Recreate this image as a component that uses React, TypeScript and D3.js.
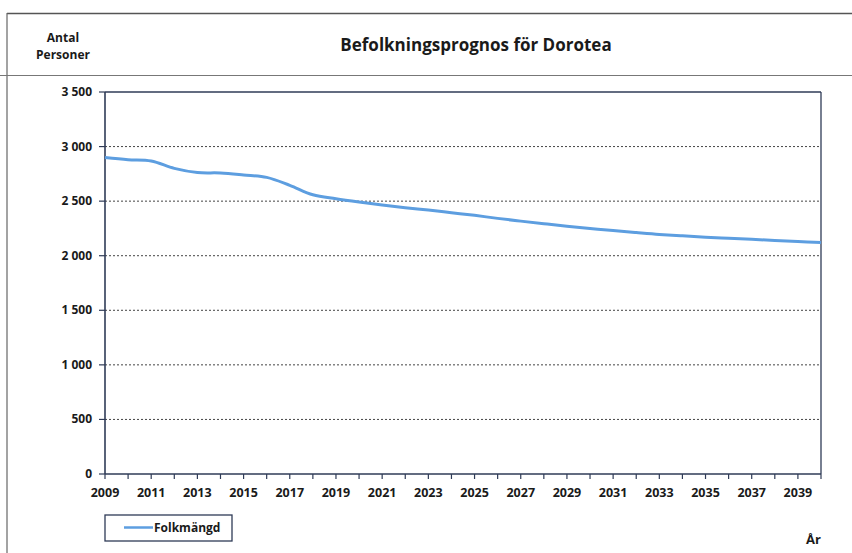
import React from "react";
import * as d3 from "d3";

const years: number[] = [
  2009, 2010, 2011, 2012, 2013, 2014, 2015, 2016, 2017, 2018, 2019, 2020, 2021, 2022, 2023, 2024,
  2025, 2026, 2027, 2028, 2029, 2030, 2031, 2032, 2033, 2034, 2035, 2036, 2037, 2038, 2039, 2040,
];
const folkmangd: number[] = [
  2900, 2880, 2868, 2800, 2762, 2758, 2740, 2718, 2645, 2558, 2522, 2492, 2465, 2440, 2418, 2394,
  2370, 2342, 2317, 2293, 2270, 2250, 2230, 2212, 2195, 2182, 2170, 2160, 2150, 2140, 2130, 2120,
];
const yTicks: number[] = [0, 500, 1000, 1500, 2000, 2500, 3000, 3500];
const xLabelYears: number[] = [2009, 2011, 2013, 2015, 2017, 2019, 2021, 2023, 2025, 2027, 2029, 2031, 2033, 2035, 2037, 2039];

const title = "Befolkningsprognos för Dorotea";
const seriesName = "Folkmängd";
const yTitle = ["Antal", "Personer"];
const xTitle = "År";

const W = 852;
const H = 553;
const left = 105;
const right = 821;
const top = 92;
const bottom = 474;
const FONT = "'Open Sans', 'Liberation Sans', sans-serif";
const TEXT = "#1a1a1a";
const AXIS = "#2f3b57";
const LINE = "#5d9ee0";

const sv = d3.formatLocale({ decimal: ",", thousands: " ", grouping: [3], currency: ["", ""] }).format(",d");

export default function App() {
  const x = d3.scaleLinear().domain([2009, 2040]).range([left, right]);
  const y = d3.scaleLinear().domain([0, 3500]).range([bottom, top]);
  const line = d3
    .line<number>()
    .x((_, i) => x(years[i]))
    .y((d) => y(d))
    .curve(d3.curveCatmullRom.alpha(0.5));

  return (
    <svg width={W} height={H} style={{ position: "absolute", left: 0, top: 0, background: "#fff" }}>
      <rect x={0} y={0} width={W} height={H} fill="#fff" />
      {/* outer frame */}
      <line x1={7} x2={W} y1={13.5} y2={13.5} stroke="#555" strokeWidth={1.5} />
      <line x1={7} x2={7} y1={13} y2={H} stroke="#666" strokeWidth={1.2} />
      <line x1={0} x2={W} y1={75.5} y2={75.5} stroke="#777" strokeWidth={1.2} />

      {/* titles */}
      <text x={63} y={42} textAnchor="middle" fontFamily={FONT} fontWeight="bold" fontSize={12} fill={TEXT}>
        {yTitle[0]}
      </text>
      <text x={63} y={59} textAnchor="middle" fontFamily={FONT} fontWeight="bold" fontSize={12} fill={TEXT}>
        {yTitle[1]}
      </text>
      <text x={476} y={51} textAnchor="middle" fontFamily={FONT} fontWeight="bold" fontSize={17} fill={TEXT}>
        {title}
      </text>

      {/* gridlines */}
      {yTicks
        .filter((t) => t > 0 && t < 3500)
        .map((t) => (
          <line key={t} x1={left} x2={right} y1={y(t)} y2={y(t)} stroke="#444" strokeWidth={1} strokeDasharray="2,2" />
        ))}

      {/* plot frame */}
      <line x1={left} x2={right} y1={top} y2={top} stroke={AXIS} strokeWidth={1.3} />
      <line x1={right} x2={right} y1={top} y2={bottom} stroke={AXIS} strokeWidth={1.3} />
      <line x1={left} x2={left} y1={top} y2={bottom} stroke={AXIS} strokeWidth={1.6} />
      <line x1={left} x2={right} y1={bottom} y2={bottom} stroke={AXIS} strokeWidth={1.6} />

      {/* y ticks */}
      {yTicks.map((t) => (
        <g key={t}>
          <line x1={left - 6} x2={left} y1={y(t)} y2={y(t)} stroke={AXIS} strokeWidth={1.2} />
          <text x={92} y={y(t) + 4} textAnchor="end" fontFamily={FONT} fontWeight="bold" fontSize={12} fill={TEXT}>
            {sv(t)}
          </text>
        </g>
      ))}

      {/* x ticks */}
      {years.map((yr) => (
        <line key={yr} x1={x(yr)} x2={x(yr)} y1={bottom} y2={bottom + 5} stroke={AXIS} strokeWidth={1.2} />
      ))}
      {xLabelYears.map((yr) => (
        <text key={yr} x={x(yr)} y={497} textAnchor="middle" fontFamily={FONT} fontWeight="bold" fontSize={12.5} fill={TEXT}>
          {yr}
        </text>
      ))}

      {/* series */}
      <path d={line(folkmangd) || ""} fill="none" stroke={LINE} strokeWidth={3} strokeLinejoin="round" />

      {/* legend */}
      <rect x={105} y={515} width={127} height={26} fill="#fff" stroke={AXIS} strokeWidth={1.3} />
      <line x1={124} x2={153} y1={527.5} y2={527.5} stroke={LINE} strokeWidth={2.5} />
      <text x={154} y={532} fontFamily={FONT} fontWeight="bold" fontSize={12} fill={TEXT}>
        {seriesName}
      </text>

      <text x={806} y={544} fontFamily={FONT} fontWeight="bold" fontSize={13} fill={TEXT}>
        {xTitle}
      </text>
    </svg>
  );
}
